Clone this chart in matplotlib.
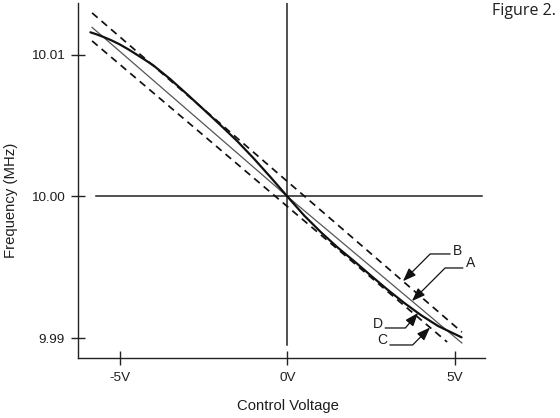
import matplotlib
matplotlib.use("Agg")
import matplotlib.pyplot as plt
import numpy as np

# ---- data ----
upper_x = [-5.83, 5.21]            # B (dashed, upper limit)
upper_y = [10.01297, 9.99042]
lower_x = [-5.83, 4.77]            # C (dashed, lower limit)
lower_y = [10.01099, 9.98972]
thin_x = [-5.83, 0.0, 5.21]        # A (thin, ideal)
thin_y = [10.01195, 10.0, 9.98965]
thick_x = [-5.88, -5.7, -5.5, -5.25, -5.0, -4.75, -4.5, -4.25, -4.0, -3.5, -3.0,
           -2.5, -2.0, -1.5, -1.0, -0.5, 0.0, 0.5, 1.0, 1.5, 2.0, 2.5, 3.0, 3.5,
           4.0, 4.5, 5.2]   # D
thick_y = [10.01160, 10.01146, 10.01128, 10.01103, 10.01074, 10.01040, 10.01003,
           10.00965, 10.00926, 10.00830, 10.00724, 10.00615, 10.00505, 10.00392,
           10.00268, 10.00136, 10.00000, 9.99866, 9.99748, 9.99640, 9.99542,
           9.99440, 9.99340, 9.99246, 9.99160, 9.99085, 9.99005]
xticks = [-5, 0, 5]
xticklabels = ["-5V", "0V", "5V"]
yticks = [9.99, 10.00, 10.01]
yticklabels = ["9.99", "10.00", "10.01"]

plt.rcParams['font.family'] = ['Liberation Sans', 'DejaVu Sans']
TXT = '#1e1e1e'

fig = plt.figure(figsize=(5.6, 4.18), dpi=100)
ax = fig.add_axes([78/560, 1-358/418, (485-78)/560, (358-3)/418])
ax.set_xlim(-6.25, 5.90)
ax.set_ylim(9.98859, 10.01367)

for s in ['top', 'right']:
    ax.spines[s].set_visible(False)
for s in ['left', 'bottom']:
    ax.spines[s].set_linewidth(1.0)
    ax.spines[s].set_color('#222222')

ax.set_xticks(xticks)
ax.set_xticklabels(xticklabels)
ax.set_yticks(yticks)
ax.set_yticklabels(yticklabels)
ax.tick_params(axis='both', direction='inout', length=10, width=1.0,
               color='#222222', labelsize=9.7, labelcolor=TXT)
ax.tick_params(axis='x', pad=5.0)
ax.tick_params(axis='y', pad=4.5)

# cross hair
ax.plot([-5.71, 5.81], [10.0, 10.0], color='#222222', lw=1.1, zorder=1)
ax.plot([0, 0], [9.9895, 10.0137], color='#222222', lw=1.1, zorder=1)

dash = (4.2, 3.0)
ax.plot(upper_x, upper_y, color='#111111', lw=1.25, dashes=dash, zorder=3)
ax.plot(lower_x, lower_y, color='#111111', lw=1.25, dashes=dash, zorder=3)
ax.plot(thin_x, thin_y, color='#555555', lw=0.9, zorder=3)
ax.plot(thick_x, thick_y, color='#111111', lw=1.6, zorder=4,
        solid_capstyle='round', solid_joinstyle='round')

ax.set_xlabel('Control Voltage', fontsize=10.7, color=TXT)
ax.set_ylabel('Frequency (MHz)', fontsize=10.7, color=TXT)
ax.xaxis.set_label_coords(0.516, -0.115)
ax.yaxis.set_label_coords(-0.148, 0.445)

# annotation leaders
def leader(label, start, target, angB, text_xy, ha):
    ax.annotate('', xy=target, xytext=start,
                arrowprops=dict(arrowstyle='-|>,head_length=0.8,head_width=0.3',
                                connectionstyle=f'angle,angleA=0,angleB={angB},rad=0',
                                color='#111111', lw=0.9, shrinkA=0, shrinkB=0))
    ax.text(text_xy[0], text_xy[1], label, fontsize=10, color=TXT,
            ha=ha, va='center')

xb = 3.45
leader('B', (4.86, 9.99594), (xb, np.interp(xb, upper_x, upper_y)), 45,
       (4.93, 9.99615), 'left')
xa = 3.72
leader('A', (5.24, 9.99495), (xa, np.interp(xa, thin_x, thin_y)), 45,
       (5.33, 9.99530), 'left')
xd = 3.90
leader('D', (2.92, 9.99071), (xd, np.interp(xd, thick_x, thick_y)), 50,
       (2.86, 9.99099), 'right')
xc = 4.26
leader('C', (3.06, 9.98951), (xc, np.interp(xc, lower_x, lower_y)), 45,
       (2.98, 9.98986), 'right')

fig.text(556/560, 1-3/418, 'Figure 2.', fontsize=11.5, color=TXT,
         ha='right', va='top', family=['Open Sans', 'DejaVu Sans'])

fig.savefig('out.png', dpi=100, facecolor='white')
